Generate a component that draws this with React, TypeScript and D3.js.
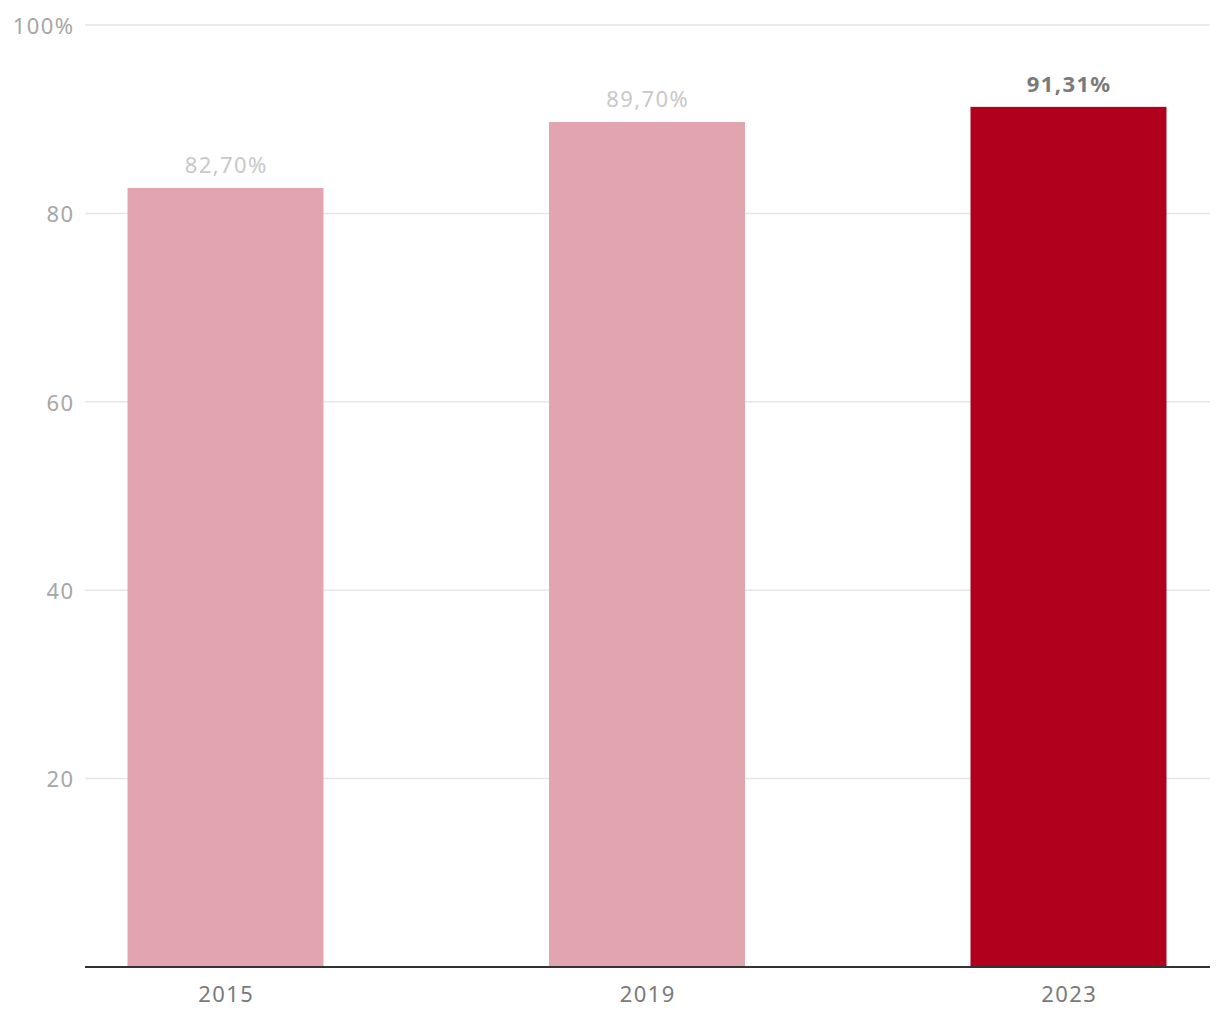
import React from "react";
import * as d3 from "d3";

const years = ["2015", "2019", "2023"];
const values = [82.7, 89.7, 91.31];
const valueLabels = ["82,70%", "89,70%", "91,31%"];
const highlighted = [false, false, true];
const yTicks = [20, 40, 60, 80, 100];

const W = 1220;
const H = 1020;
const FONT = "'Noto Sans', 'Open Sans', sans-serif";
const FS = 22;
const LS = 1.4;

export default function App() {
  const y = d3.scaleLinear().domain([0, 100]).range([967, 25]);
  const x = d3
    .scaleBand<string>()
    .domain(years)
    .range([14.75, 1279.25])
    .paddingInner(0.535)
    .paddingOuter(0.2675);

  return (
    <div style={{ position: "absolute", left: 0, top: 0 }}>
      <svg width={W} height={H} style={{ display: "block", background: "#fff" }}>
        {yTicks.map((t) => (
          <g key={t}>
            <line x1={85} x2={1210} y1={y(t)} y2={y(t)} stroke="#e6e6e6" strokeWidth={1.5} />
            <text
              x={73 + LS}
              y={y(t) + 1}
              dy="0.35em"
              textAnchor="end"
              fontFamily={FONT}
              fontSize={FS}
              letterSpacing={LS}
              fill="#a6a6a6"
            >
              {t === 100 ? "100%" : String(t)}
            </text>
          </g>
        ))}
        {years.map((yr, i) => (
          <g key={yr}>
            <rect
              x={x(yr)}
              y={y(values[i])}
              width={x.bandwidth()}
              height={y(0) - y(values[i])}
              fill={highlighted[i] ? "#b0001e" : "#e2a5b0"}
            />
            <text
              x={(x(yr) as number) + x.bandwidth() / 2 + LS / 2}
              y={y(values[i]) - 15}
              textAnchor="middle"
              fontFamily={FONT}
              fontSize={FS}
              letterSpacing={LS}
              fontWeight={highlighted[i] ? 700 : 400}
              fill={highlighted[i] ? "#7a7a7a" : "#c8c8c8"}
            >
              {valueLabels[i]}
            </text>
            <text
              x={(x(yr) as number) + x.bandwidth() / 2 + LS / 2}
              y={1002}
              textAnchor="middle"
              fontFamily={FONT}
              fontSize={FS}
              letterSpacing={LS}
              fill="#7a7a7a"
            >
              {yr}
            </text>
          </g>
        ))}
        <line x1={85} x2={1210} y1={y(0)} y2={y(0)} stroke="#333" strokeWidth={2} />
      </svg>
    </div>
  );
}
